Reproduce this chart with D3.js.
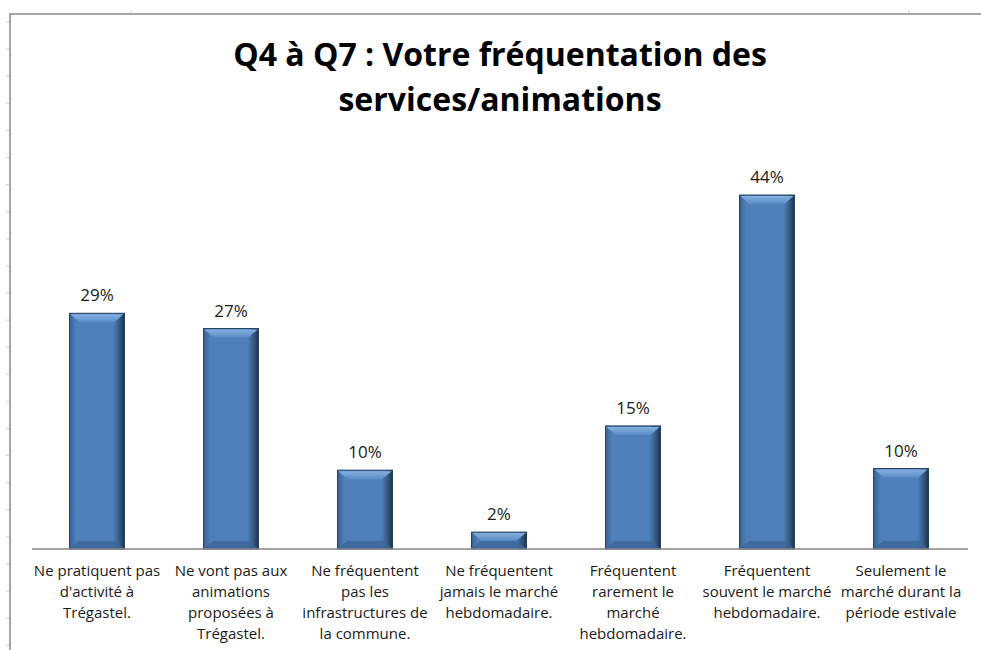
<!DOCTYPE html>
<html>
<head>
<meta charset="utf-8">
<script src="https://cdn.jsdelivr.net/npm/d3@7"></script>
<style>
  body { margin: 0; background: #fff; }
  svg { display: block; }
</style>
</head>
<body>
<div id="chart"></div>
<script>
// Categories (line breaks as in the picture)
const categories = [
    "Ne pratiquent pas\nd'activité à\nTrégastel.",
    "Ne vont pas aux\nanimations\nproposées à\nTrégastel.",
    "Ne fréquentent\npas les\ninfrastructures de\nla commune.",
    "Ne fréquentent\njamais le marché\nhebdomadaire.",
    "Fréquentent\nrarement le\nmarché\nhebdomadaire.",
    "Fréquentent\nsouvent le marché\nhebdomadaire.",
    "Seulement le\nmarché durant la\npériode estivale"
];
// Values in percent
const values = [29.3, 27.4, 9.8, 2.1, 15.3, 44, 10];
const titleLines = ["Q4 à Q7 : Votre fréquentation des", "services/animations"];

const width = 981;
const height = 650;
const baseY = 549;

const svg = d3.select("#chart").append("svg")
    .attr("width", width)
    .attr("height", height);

const defs = svg.append("defs");

// bar body: dark at the sides, blue in the middle
const grad = defs.append("linearGradient")
    .attr("id", "barGrad")
    .attr("x1", "0%").attr("x2", "100%").attr("y1", "0%").attr("y2", "0%");
grad.append("stop").attr("offset", "0%").attr("stop-color", "#3a6292");
grad.append("stop").attr("offset", "12%").attr("stop-color", "#4f80bc");
grad.append("stop").attr("offset", "80%").attr("stop-color", "#4f80bc");
grad.append("stop").attr("offset", "93%").attr("stop-color", "#2f5277");
grad.append("stop").attr("offset", "100%").attr("stop-color", "#1c3350");

const bevel = defs.append("linearGradient")
    .attr("id", "bevelGrad")
    .attr("x1", "0%").attr("x2", "0%").attr("y1", "0%").attr("y2", "100%");
bevel.append("stop").attr("offset", "0%").attr("stop-color", "#86afe0");
bevel.append("stop").attr("offset", "100%").attr("stop-color", "#5b8cc7");

// sheet frame (grey border of the embedded chart)
svg.append("line")
    .attr("x1", 10).attr("x2", width).attr("y1", 14).attr("y2", 14)
    .attr("stroke", "#a6a6a6").attr("stroke-width", 2);
svg.append("line")
    .attr("x1", 10).attr("x2", 10).attr("y1", 13).attr("y2", height)
    .attr("stroke", "#a6a6a6").attr("stroke-width", 2);

// faint row marks of the sheet on the left
const rowMarks = d3.range(22, height, 27.1);
svg.append("g").selectAll("line")
    .data(rowMarks)
    .join("line")
    .attr("x1", 6).attr("x2", 9)
    .attr("y1", d => d).attr("y2", d => d)
    .attr("stroke", "#c9cde0").attr("stroke-width", 1);
svg.append("g").selectAll("line")
    .data([131, 909])
    .join("line")
    .attr("x1", d => d).attr("x2", d => d)
    .attr("y1", 10).attr("y2", 13)
    .attr("stroke", "#c9cde0").attr("stroke-width", 1);

// Title
svg.append("text")
    .attr("text-anchor", "middle")
    .attr("font-family", "'Open Sans', sans-serif")
    .attr("font-weight", "bold")
    .attr("font-size", 32)
    .attr("fill", "#000")
    .selectAll("tspan")
    .data(titleLines)
    .join("tspan")
    .attr("x", 500)
    .attr("y", (d, i) => 66 + i * 45)
    .text(d => d);

// Scales
const x = d3.scaleBand()
    .domain(d3.range(categories.length))
    .range([30, 968])
    .paddingInner(0.59)
    .paddingOuter(0.295);

const y = d3.scaleLinear()
    .domain([0, 44])
    .range([baseY, 195]);

// Bars
const bars = svg.append("g")
    .selectAll("g")
    .data(values)
    .join("g")
    .attr("transform", (d, i) => `translate(${x(i)},${y(d)})`);

bars.append("rect")
    .attr("width", x.bandwidth())
    .attr("height", d => baseY - y(d))
    .attr("fill", "url(#barGrad)")
    .attr("stroke", "#243f60")
    .attr("stroke-width", 1);

// lighter bevel on top of each bar
bars.append("path")
    .attr("d", d => {
        const w = x.bandwidth();
        const b = Math.min(9, (baseY - y(d)) / 2);
        return `M1,1 L${w - 1},1 L${w - 1 - b},${b} L${1 + b},${b} Z`;
    })
    .attr("fill", "url(#bevelGrad)");

// darker bevel at the bottom
bars.append("path")
    .attr("d", d => {
        const w = x.bandwidth();
        const h = baseY - y(d);
        const b = Math.min(8, h / 2);
        return `M1,${h - 1} L${w - 1},${h - 1} L${w - 1 - b},${h - b} L${1 + b},${h - b} Z`;
    })
    .attr("fill", "#3b6599")
    .attr("opacity", 0.8);

// Value labels
svg.append("g")
    .selectAll("text")
    .data(values)
    .join("text")
    .attr("x", (d, i) => x(i) + x.bandwidth() / 2)
    .attr("y", d => y(d) - 12)
    .attr("text-anchor", "middle")
    .attr("font-family", "'Open Sans', sans-serif")
    .attr("font-size", 17)
    .attr("fill", "#1a1a1a")
    .text(d => Math.round(d) + "%");

// Axis line
const xAxis = svg.append("g")
    .attr("transform", `translate(0,${baseY})`)
    .call(d3.axisBottom(x).tickSize(0).tickFormat(""));
xAxis.select(".domain")
    .attr("stroke", "#868686")
    .attr("stroke-width", 1.5)
    .attr("d", "M32,0H968");

// Category labels
const catLabels = svg.append("g")
    .selectAll("text")
    .data(categories)
    .join("text")
    .attr("text-anchor", "middle")
    .attr("font-family", "'Open Sans', sans-serif")
    .attr("font-size", 15)
    .attr("fill", "#1a1a1a");

catLabels.selectAll("tspan")
    .data(d => d.split("\n"))
    .join("tspan")
    .attr("y", (d, j) => 576 + j * 21)
    .text(d => d);

catLabels.each(function(d, i) {
    d3.select(this).selectAll("tspan")
        .attr("x", x(i) + x.bandwidth() / 2);
});
</script>
</body>
</html>
